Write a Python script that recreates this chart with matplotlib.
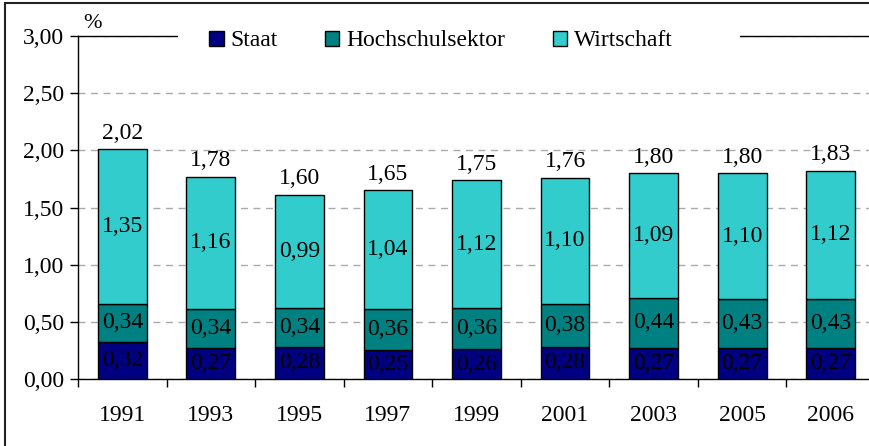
import matplotlib.pyplot as plt
import matplotlib.patches as mpatches
import numpy as np

plt.rcParams['font.family'] = ['Liberation Serif', 'DejaVu Serif']

# --- Data ---
years = ['1991', '1993', '1995', '1997', '1999', '2001', '2003', '2005', '2006']
staat = [0.32, 0.27, 0.28, 0.25, 0.26, 0.28, 0.27, 0.27, 0.27]
hochschule = [0.34, 0.34, 0.34, 0.36, 0.36, 0.38, 0.44, 0.43, 0.43]
wirtschaft = [1.35, 1.16, 0.99, 1.04, 1.12, 1.10, 1.09, 1.10, 1.12]
totals = [2.02, 1.78, 1.60, 1.65, 1.75, 1.76, 1.80, 1.80, 1.83]
series_names = ['Staat', 'Hochschulsektor', 'Wirtschaft']
colors = ['#000080', '#008080', '#33CCCC']

FS = 17
W, H = 869, 446
fig = plt.figure(figsize=(W / 100, H / 100), dpi=100)
ax = fig.add_axes([78 / W, 1 - 379 / H, (875 - 78) / W, (379 - 36) / H])

# outer frame
fig.patches.append(mpatches.Rectangle((5 / W, -0.05), 1.1, 1 - 3 / H + 0.05,
                                      transform=fig.transFigure, fill=False,
                                      edgecolor='#222222', linewidth=1.5))
# white legend area hiding the top line
fig.patches.append(mpatches.Rectangle((178 / W, 1 - 52 / H), (740 - 178) / W, 24 / H,
                                      transform=fig.transFigure, facecolor='white',
                                      edgecolor='none', zorder=2))

x = np.arange(len(years))
fmt = lambda v: f'{v:.2f}'.replace('.', ',')
bottom = np.zeros(len(years))
handles = []
for vals, name, col in zip([staat, hochschule, wirtschaft], series_names, colors):
    bars = ax.bar(x, vals, 0.55, bottom=bottom, color=col, edgecolor='black',
                  linewidth=1, label=name, zorder=3)
    handles.append(bars)
    for xi, b, v in zip(x, bottom, vals):
        ax.text(xi, b + v / 2, fmt(v), ha='center', va='center',
                fontsize=FS, color='black', zorder=4)
    bottom = bottom + np.array(vals)

for xi, top, t in zip(x, bottom, totals):
    ax.annotate(fmt(t), (xi, top), xytext=(0, 4), textcoords='offset points',
                ha='center', va='bottom', fontsize=FS)

ax.set_ylim(0, 3.0)
ax.set_xlim(-0.5, len(years) - 0.5)
yt = np.arange(0, 3.01, 0.5)
ax.set_yticks(yt)
ax.set_yticklabels([fmt(v) for v in yt], fontsize=FS)
ax.set_xticks(x)
ax.set_xticklabels(years, fontsize=FS)
ax.tick_params(axis='x', length=0, pad=19)
ax.set_xticks(np.arange(-0.5, len(years), 1), minor=True)
ax.tick_params(axis='x', which='minor', length=6, width=1, direction='out')
ax.tick_params(axis='y', length=6, width=1, direction='out', pad=4)
ax.yaxis.grid(True, color='#aaaaaa', linestyle=(0, (5, 4)), linewidth=1, zorder=0)
ax.spines['right'].set_visible(False)
for s in ['left', 'bottom', 'top']:
    ax.spines[s].set_linewidth(1)

ax.text(0.006, 1.008, '%', transform=ax.transAxes, fontsize=FS - 1, va='bottom')

leg = fig.legend(handles=handles, labels=series_names, loc='center',
                 bbox_to_anchor=(441 / W, 1 - 41 / H), ncol=3, fontsize=FS,
                 frameon=False, handlelength=0.6, handleheight=0.6,
                 handletextpad=0.3, columnspacing=2.0)
leg.set_zorder(5)

fig.savefig('out.png', dpi=100)
